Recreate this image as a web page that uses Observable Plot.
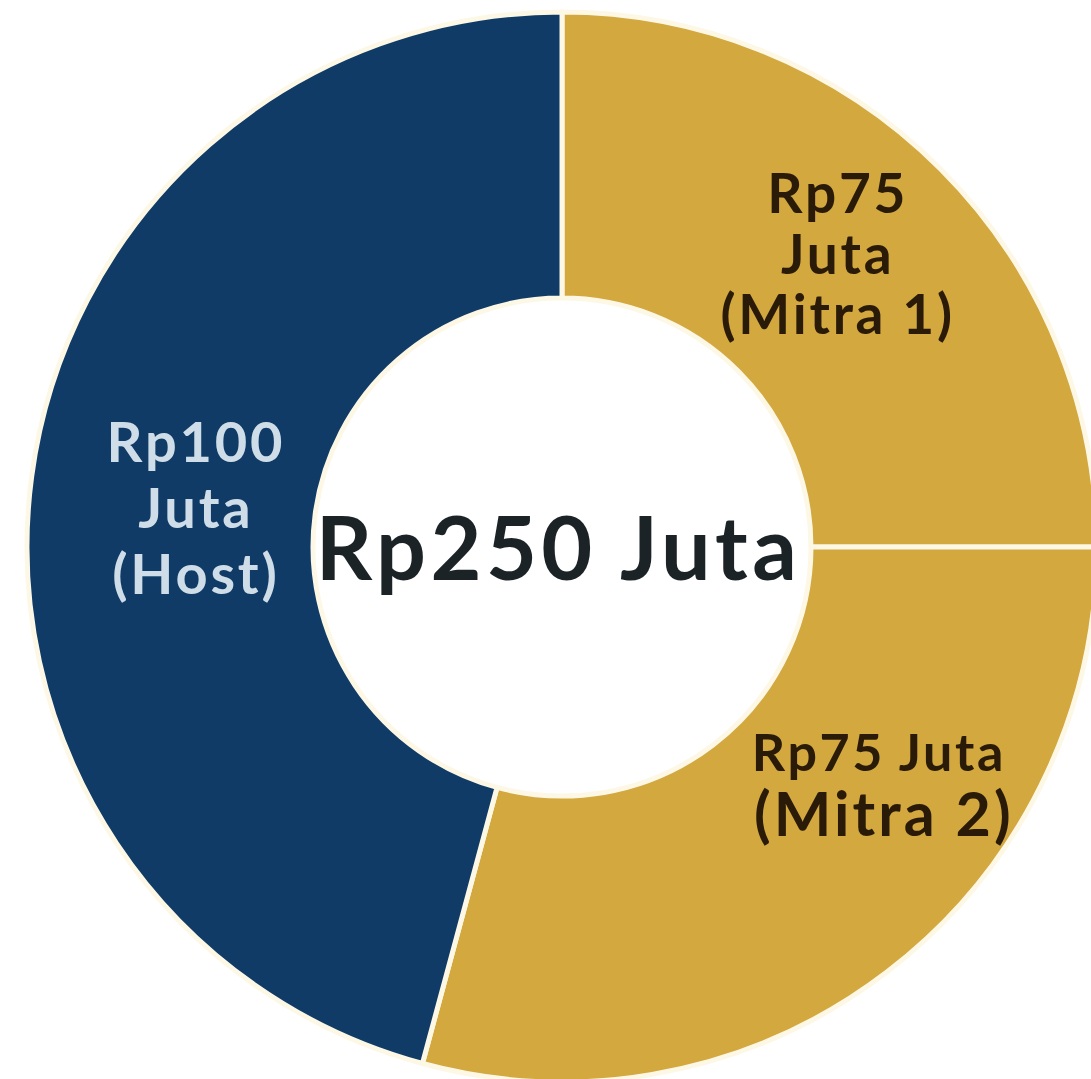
<!DOCTYPE html>
<html>
<head>
<meta charset="utf-8">
<script src="https://cdn.jsdelivr.net/npm/d3@7"></script>
<script src="https://cdn.jsdelivr.net/npm/@observablehq/plot@0.6"></script>
<style>html,body{margin:0;padding:0;background:#fff;} svg text{letter-spacing:0.05em;}</style>
</head>
<body>
<div id="chart"></div>
<script>
// Data (clockwise from 12 o'clock)
const categories = ["Mitra 1", "Mitra 2", "Host"];
const amounts = [75, 75, 100]; // Rp juta
const drawnShare = [25.0, 29.2, 45.8]; // % of the ring as drawn in the picture
const labelLines = [["Rp75", "Juta", "(Mitra 1)"], ["Rp75 Juta", "(Mitra 2)"], ["Rp100", "Juta", "(Host)"]];
const totalLabel = "Rp250 Juta";
const sliceColors = ["#d3a83e", "#d3a83e", "#0f3b66"];

const innerRatio = 0.4654;
const midR = (innerRatio + 1) / 2;
const pie = d3.pie().sort(null).value(d => d.share);
const slices = pie(categories.map((c, i) => ({category: c, amount: amounts[i], share: drawnShare[i], lines: labelLines[i]})));
slices.forEach(s => {
  const a = (s.startAngle + s.endAngle) / 2;
  s.cx = midR * Math.sin(a);
  s.cy = midR * Math.cos(a);
  s.category = s.data.category;
});

function ring(index, scales) {
  const x = scales.x, y = scales.y;
  const color = scales.color || d3.scaleOrdinal(categories, sliceColors);
  const cx = x(0), cy = y(0);
  const R = x(1) - x(0), r = x(innerRatio) - x(0);
  const arc = d3.arc().innerRadius(r).outerRadius(R);
  const g = d3.create("svg:g").attr("transform", `translate(${cx},${cy})`);
  g.selectAll("path").data(slices).join("path")
    .attr("d", arc)
    .attr("fill", d => color(d.data.category))
    .attr("stroke", "#fdf8e6")
    .attr("stroke-width", 5)
    .attr("stroke-linejoin", "round");
  return g.node();
}

const byCat = c => slices.filter(s => s.category === c);

const chart = Plot.plot({
  width: 1091,
  height: 1079,
  margin: 0,
  x: {domain: [-1, 1], range: [27, 1097], axis: null},
  y: {domain: [-1, 1], range: [1082, 12], axis: null},
  color: {domain: categories, range: sliceColors},
  style: {fontFamily: "Lato, sans-serif", background: "#ffffff"},
  marks: [
    Plot.dot(slices, {x: "cx", y: "cy", fill: "category", r: 0}),
    ring,
    Plot.text(byCat("Host"), {x: "cx", y: "cy", text: d => d.data.lines.join("\n"), dx: 22, dy: 11,
      fontSize: 56, lineHeight: 1.18, fontWeight: 700, fill: "#cfdde8"}),
    Plot.text(byCat("Mitra 1"), {x: "cx", y: "cy", text: d => d.data.lines.join("\n"), dx: -2, dy: -16,
      fontSize: 55, lineHeight: 1.1, fontWeight: 700, fill: "#2a1a08"}),
    Plot.text(byCat("Mitra 2"), {x: "cx", y: "cy", text: d => d.data.lines[0], dx: 78, dy: -104,
      fontSize: 52, fontWeight: 700, fill: "#2a1a08"}),
    Plot.text(byCat("Mitra 2"), {x: "cx", y: "cy", text: d => d.data.lines[1], dx: 83, dy: -42,
      fontSize: 61, fontWeight: 700, fill: "#2a1a08"}),
    Plot.text([totalLabel], {x: () => 0, y: () => 0, text: d => d, dx: -4, dy: 4,
      fontSize: 88, fontWeight: 700, fill: "#1b2327"})
  ]
});
document.getElementById("chart").append(chart);
</script>
</body>
</html>
